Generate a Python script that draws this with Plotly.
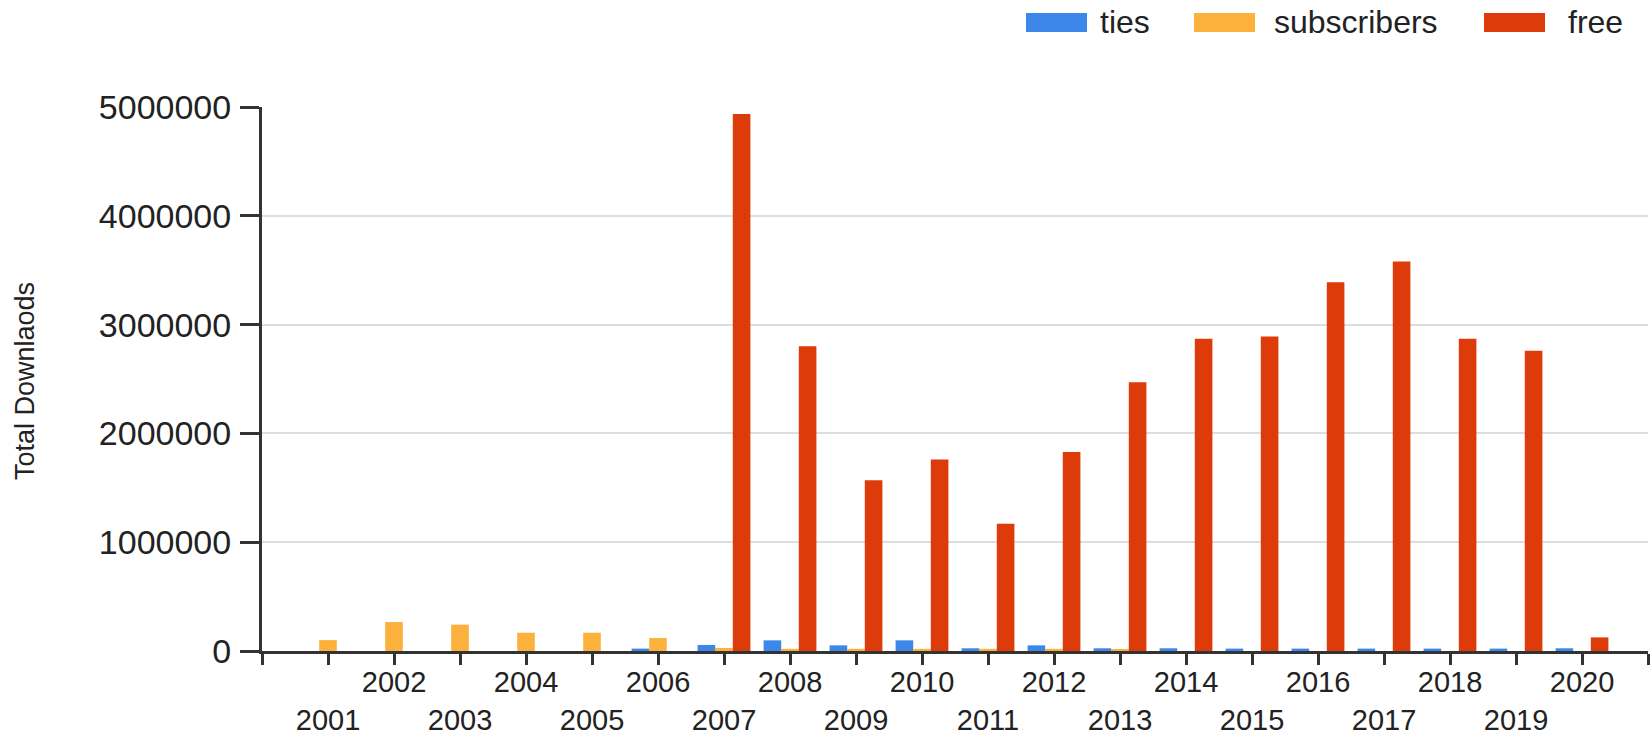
import plotly.graph_objects as go

years = list(range(2001, 2021))
ties = [0, 0, 0, 0, 0, 22000, 55000, 98000, 52000, 98000, 25000, 52000, 25000,
        25000, 22000, 22000, 22000, 22000, 22000, 25000]
subscribers = [100000, 266000, 242000, 168000, 168000, 119000, 28000, 20000, 20000,
               20000, 20000, 20000, 16000, 0, 0, 0, 0, 0, 0, 0]
free = [0, 0, 0, 0, 0, 0, 4935000, 2800000, 1570000, 1760000, 1170000, 1830000,
        2470000, 2870000, 2890000, 3390000, 3580000, 2870000, 2760000, 125000]
series_names = ["ties", "subscribers", "free"]
series_colors = ["#3d87ea", "#fbb13c", "#dd3b0a"]
y_ticks = [0, 1000000, 2000000, 3000000, 4000000, 5000000]

W, H = 1650, 736
L, R, T, B = 262, 2, 107, 85
pw, ph = W - L - R, H - T - B

fig = go.Figure()
for name, vals, col in zip(series_names, [ties, subscribers, free], series_colors):
    fig.add_trace(go.Bar(x=years, y=vals, name=name, marker_color=col,
                         marker_line_width=0, showlegend=False))

tickvals = [years[0] - 1] + years + [years[-1] + 1]
ticktext = [""] + [str(y) if y % 2 == 0 else "<br>" + str(y) for y in years] + [""]

font_fam = "Liberation Sans, Arial, sans-serif"
fig.update_layout(
    width=W, height=H,
    margin=dict(l=L, r=R, t=T, b=B, autoexpand=False),
    paper_bgcolor="white", plot_bgcolor="white",
    barmode="group", bargap=0.2, bargroupgap=0,
    font=dict(family=font_fam, color="#222222"),
    xaxis=dict(range=[years[0] - 1, years[-1] + 1], tickmode="array",
               tickvals=tickvals, ticktext=ticktext, showgrid=False,
               showline=True, linecolor="#333333", linewidth=3,
               ticks="outside", ticklen=11, tickwidth=3, tickcolor="#333333",
               tickfont=dict(size=29, color="#222222"), tickangle=0,
               zeroline=False, ticklabelstandoff=-8),
    yaxis=dict(range=[0, 5000000], tickmode="array", tickvals=y_ticks,
               ticktext=[str(v) for v in y_ticks],
               showgrid=True, gridcolor="#dedede", gridwidth=2,
               showline=True, linecolor="#333333", linewidth=3,
               ticks="outside", ticklen=19, tickwidth=3, tickcolor="#333333",
               tickfont=dict(size=34, color="#222222"), zeroline=False,
               ticklabelstandoff=2),
)

def px_x(px):
    return (px - L) / pw

def px_y(py):
    return (H - B - py) / ph

fig.add_annotation(text="Total Downlaods", xref="paper", yref="paper",
                   x=px_x(25), y=px_y(381), textangle=-90, showarrow=False,
                   xanchor="center", yanchor="middle",
                   font=dict(size=27, color="#222222", family=font_fam))

legend_items = [(1026, 1098), (1194, 1272), (1484, 1566)]
for (sx, tx), name, col in zip(legend_items, series_names, series_colors):
    fig.add_shape(type="rect", xref="paper", yref="paper",
                  x0=px_x(sx), x1=px_x(sx + 61), y0=px_y(32), y1=px_y(13),
                  fillcolor=col, line_width=0)
    fig.add_annotation(text=name, xref="paper", yref="paper",
                       x=px_x(tx), y=px_y(22), showarrow=False,
                       xanchor="left", yanchor="middle",
                       font=dict(size=32, color="#222222", family=font_fam))

fig.write_html("out.html", config={"displayModeBar": False},
               post_script="document.body.style.margin='0';"
                           "document.body.style.overflow='hidden';")
